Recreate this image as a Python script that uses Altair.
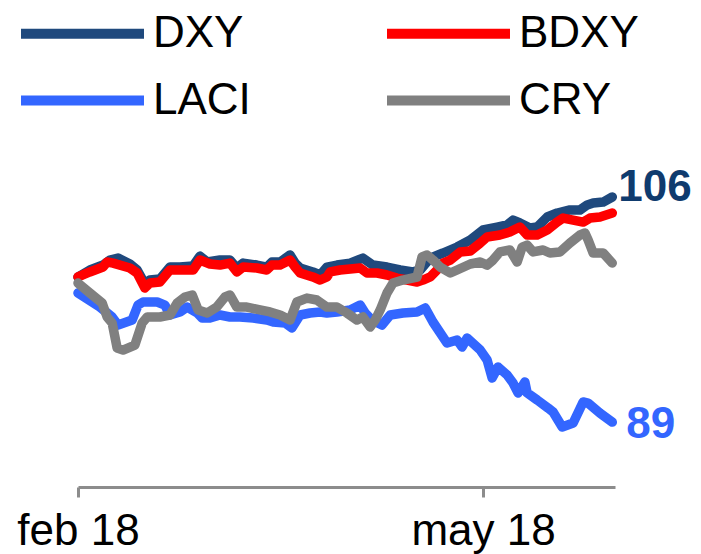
import altair as alt
import pandas as pd

series_names = ["DXY", "BDXY", "LACI", "CRY"]
series_colors = ["#1F497D", "#FF0000", "#3366FF", "#808080"]

# day offsets from 1 Feb 2018 and index values
dxy_days = [0, 2.6, 5.5, 7.0, 8.8, 11.4, 13, 14.7, 15.8, 18, 20.2, 22.4, 25.3, 26.8, 28.4, 31.2, 33.4, 34.9, 36.3,
            39.3, 41.5, 42.6, 44.4, 46.6, 47.7, 48.8, 51.6, 53.2, 54.7, 56.9, 59.8, 62.6, 64.8, 67.9, 70.8, 73.6,
            75.2, 77.4, 80.2, 83.3, 86.2, 89, 92.1, 94.3, 95.6, 97.1, 99.3, 100.9, 103.1, 105.3, 108.1, 110.3,
            111.9, 113.2, 115.4, 117.4]
dxy_vals = [99.96, 100.49, 100.86, 101.24, 101.39, 100.94, 100.49, 99.43, 99.73, 99.81, 100.71, 100.71, 100.79,
            101.54, 101.09, 101.24, 101.24, 100.64, 101.01, 100.86, 100.71, 101.09, 101.09, 101.62, 101.01, 100.64,
            100.34, 100.11, 100.71, 100.86, 101.01, 101.39, 100.86, 100.71, 100.49, 100.34, 100.49, 101.39, 101.77,
            102.22, 102.75, 103.51, 103.73, 103.89, 104.26, 104.04, 103.66, 103.73, 104.49, 104.79, 105.02, 105.02,
            105.40, 105.55, 105.62, 106.0]

bdxy_days = [0, 2.6, 5.5, 6.4, 7.7, 11.4, 13, 14.7, 15.8, 18, 20.2, 22.4, 25.3, 26.8, 29, 31.2, 33.4, 34.9, 36.3,
             39.3, 41.5, 42.6, 44.4, 46.6, 47.7, 48.8, 51.6, 53.2, 54.7, 55.4, 57.6, 62, 63.5, 65.7, 67.9, 70.1,
             72.3, 74.5, 75.8, 77.4, 78.9, 80.2, 81.8, 84, 86.2, 88.4, 89.9, 92.7, 94.9, 97.1, 98.7, 100.9, 103.1,
             105.3, 106.6, 108.8, 111, 112.5, 114.7, 117.4]
bdxy_vals = [99.96, 100.34, 100.71, 101.09, 101.01, 100.64, 100.26, 99.13, 99.50, 99.58, 100.49, 100.49, 100.49,
             101.24, 100.94, 100.86, 101.01, 100.34, 100.71, 100.64, 100.49, 100.86, 100.86, 101.24, 100.71, 100.26,
             99.96, 99.73, 99.96, 100.34, 100.49, 100.64, 100.26, 100.26, 100.11, 99.88, 99.73, 99.58, 99.73, 99.96,
             100.49, 101.01, 101.24, 101.85, 101.92, 102.53, 102.98, 103.13, 103.36, 103.73, 103.13, 103.13, 103.51,
             104.11, 104.41, 104.26, 104.11, 104.41, 104.49, 104.79]

laci_days = [0, 4.8, 7.5, 8.8, 11.9, 13.2, 14.3, 17.4, 19.1, 20.2, 22.4, 24, 26.2, 27.3, 29, 31.2, 33.4, 35.6,
             38.5, 41.5, 42.9, 45.5, 47, 48.8, 51, 53.2, 54.7, 56.9, 59.8, 62, 63.1, 64.6, 66.8, 68.6, 71.4, 74.5,
             76.3, 78, 81.1, 83.3, 84.4, 85.5, 88.4, 89.9, 91, 92.3, 94.3, 95.6, 96.7, 98.2, 98.7, 100.9, 103.3,
             104.4, 106.4, 108.8, 111, 112.1, 114.7, 117.4]
laci_vals = [98.75, 97.69, 96.94, 96.33, 96.71, 97.84, 98.07, 98.07, 97.84, 97.09, 97.32, 97.69, 97.24, 96.86,
             96.86, 97.09, 96.94, 96.94, 96.86, 96.71, 96.56, 96.49, 96.11, 97.09, 97.24, 97.32, 97.24, 97.32,
             97.47, 97.84, 97.24, 96.71, 96.33, 97.09, 97.24, 97.32, 97.62, 96.56, 94.97, 95.20, 94.67, 95.35,
             94.44, 93.69, 92.33, 93.16, 92.56, 91.95, 91.20, 92.03, 91.20, 90.67, 90.06, 89.76, 88.63, 88.93,
             90.52, 90.44, 89.68, 89.0]

cry_days = [0, 2.6, 5.3, 6.4, 7.5, 8.6, 9.9, 12.5, 14.1, 15.2, 18, 20.2, 21.8, 23.5, 25.1, 26.4, 28.4, 30.5, 32.3,
            33.4, 34.9, 37.1, 40, 42.2, 44.4, 46.6, 48.1, 50.3, 52.5, 54.7, 56.9, 59.1, 61.3, 62.6, 64.2, 65.3,
            66.4, 67.9, 69.2, 71.4, 74.5, 75.6, 76.7, 78, 79.6, 81.8, 83.3, 86.2, 88.4, 89.9, 91.2, 92.7, 94.9,
            96.5, 97.6, 98.7, 100, 102.2, 103.7, 105.9, 108.1, 110.3, 111.4, 112.1, 113.2, 115.4, 117.4]
cry_vals = [99.50, 98.75, 98.00, 96.94, 96.49, 94.60, 94.44, 94.82, 96.49, 96.94, 96.94, 97.09, 98.00, 98.45,
            98.60, 97.47, 97.24, 97.69, 98.45, 98.60, 97.69, 97.69, 97.47, 97.32, 97.09, 96.71, 98.07, 98.37,
            98.22, 97.69, 97.69, 97.24, 96.71, 96.94, 96.18, 96.71, 97.47, 98.75, 99.50, 99.73, 99.96, 101.47,
            101.62, 101.24, 100.71, 100.26, 100.49, 100.94, 101.09, 100.86, 101.24, 101.85, 102.00, 101.09,
            102.22, 102.37, 101.85, 102.00, 101.77, 101.85, 102.53, 103.13, 103.28, 102.75, 101.77, 101.77, 101.01]

tick_labels = ["feb 18", "may 18"]
labelled_series = ["DXY", "LACI"]

start = pd.Timestamp("2018-02-01")
rows = []
for name, days, vals in zip(series_names,
                            [dxy_days, bdxy_days, laci_days, cry_days],
                            [dxy_vals, bdxy_vals, laci_vals, cry_vals]):
    for d, v in zip(days, vals):
        rows.append({"series": name, "date": start + pd.Timedelta(days=d), "value": v})
df = pd.DataFrame(rows)

ends = df.groupby("series", sort=False).tail(1).copy()
ends["label"] = ends["value"].round().astype(int).astype(str)

x_scale = alt.Scale(domain=[alt.DateTime(year=2018, month=2, date=1), alt.DateTime(year=2018, month=5, date=30)],
                    nice=False)
y_scale = alt.Scale(domain=[84.1, 109.55], nice=False, zero=False)

x_enc = alt.X("date:T", scale=x_scale, title=None,
              axis=alt.Axis(values=[alt.DateTime(year=2018, month=2, date=1),
                                    alt.DateTime(year=2018, month=5, date=1)],
                            labelExpr="lower(timeFormat(datum.value, '%b %y'))",
                            grid=False, domainColor="#8C8C8C", domainWidth=3, tickColor="#8C8C8C",
                            tickWidth=3, tickSize=10, labelFontSize=44, labelFont="Liberation Sans",
                            labelColor="#000000", labelPadding=12, labelFlush=False, labelOverlap=False))
y_enc = alt.Y("value:Q", scale=y_scale, axis=None)

lines = alt.Chart(df).mark_line(strokeWidth=9.5, strokeJoin="round", strokeCap="round").encode(
    x=x_enc, y=y_enc,
    color=alt.Color("series:N", scale=alt.Scale(domain=series_names, range=series_colors),
                    sort=series_names,
                    legend=alt.Legend(orient="none", legendX=-62, legendY=-142, columns=2,
                                      direction="horizontal", title=None, symbolType="M-3,0H3",
                                      symbolSize=1681, symbolStrokeWidth=10, symbolOffset=41,
                                      labelOffset=45, labelFontSize=44, labelFont="Liberation Sans",
                                      labelColor="#000000", columnPadding=116, rowPadding=19,
                                      labelLimit=0)),
    order=alt.Order("date:T"),
    detail="series:N",
)

lab_dxy = alt.Chart(ends[ends["series"] == labelled_series[0]]).mark_text(
    align="left", baseline="middle", dx=6, dy=-9, fontSize=44, fontWeight="bold",
    font="Liberation Sans", color="#0F3B6E").encode(x="date:T", y="value:Q", text="label:N")
lab_laci = alt.Chart(ends[ends["series"] == labelled_series[1]]).mark_text(
    align="left", baseline="middle", dx=14, dy=3, fontSize=44, fontWeight="bold",
    font="Liberation Sans", color="#3366FF").encode(x="date:T", y="value:Q", text="label:N")

chart = alt.layer(lines, lab_dxy, lab_laci).properties(
    width=537, height=337,
    padding={"left": 70, "top": 142, "right": 78, "bottom": 67},
    autosize=alt.AutoSizeParams(type="none"),
).configure_view(stroke=None)

chart.save("out.html", embed_options={"renderer": "svg", "actions": False})
